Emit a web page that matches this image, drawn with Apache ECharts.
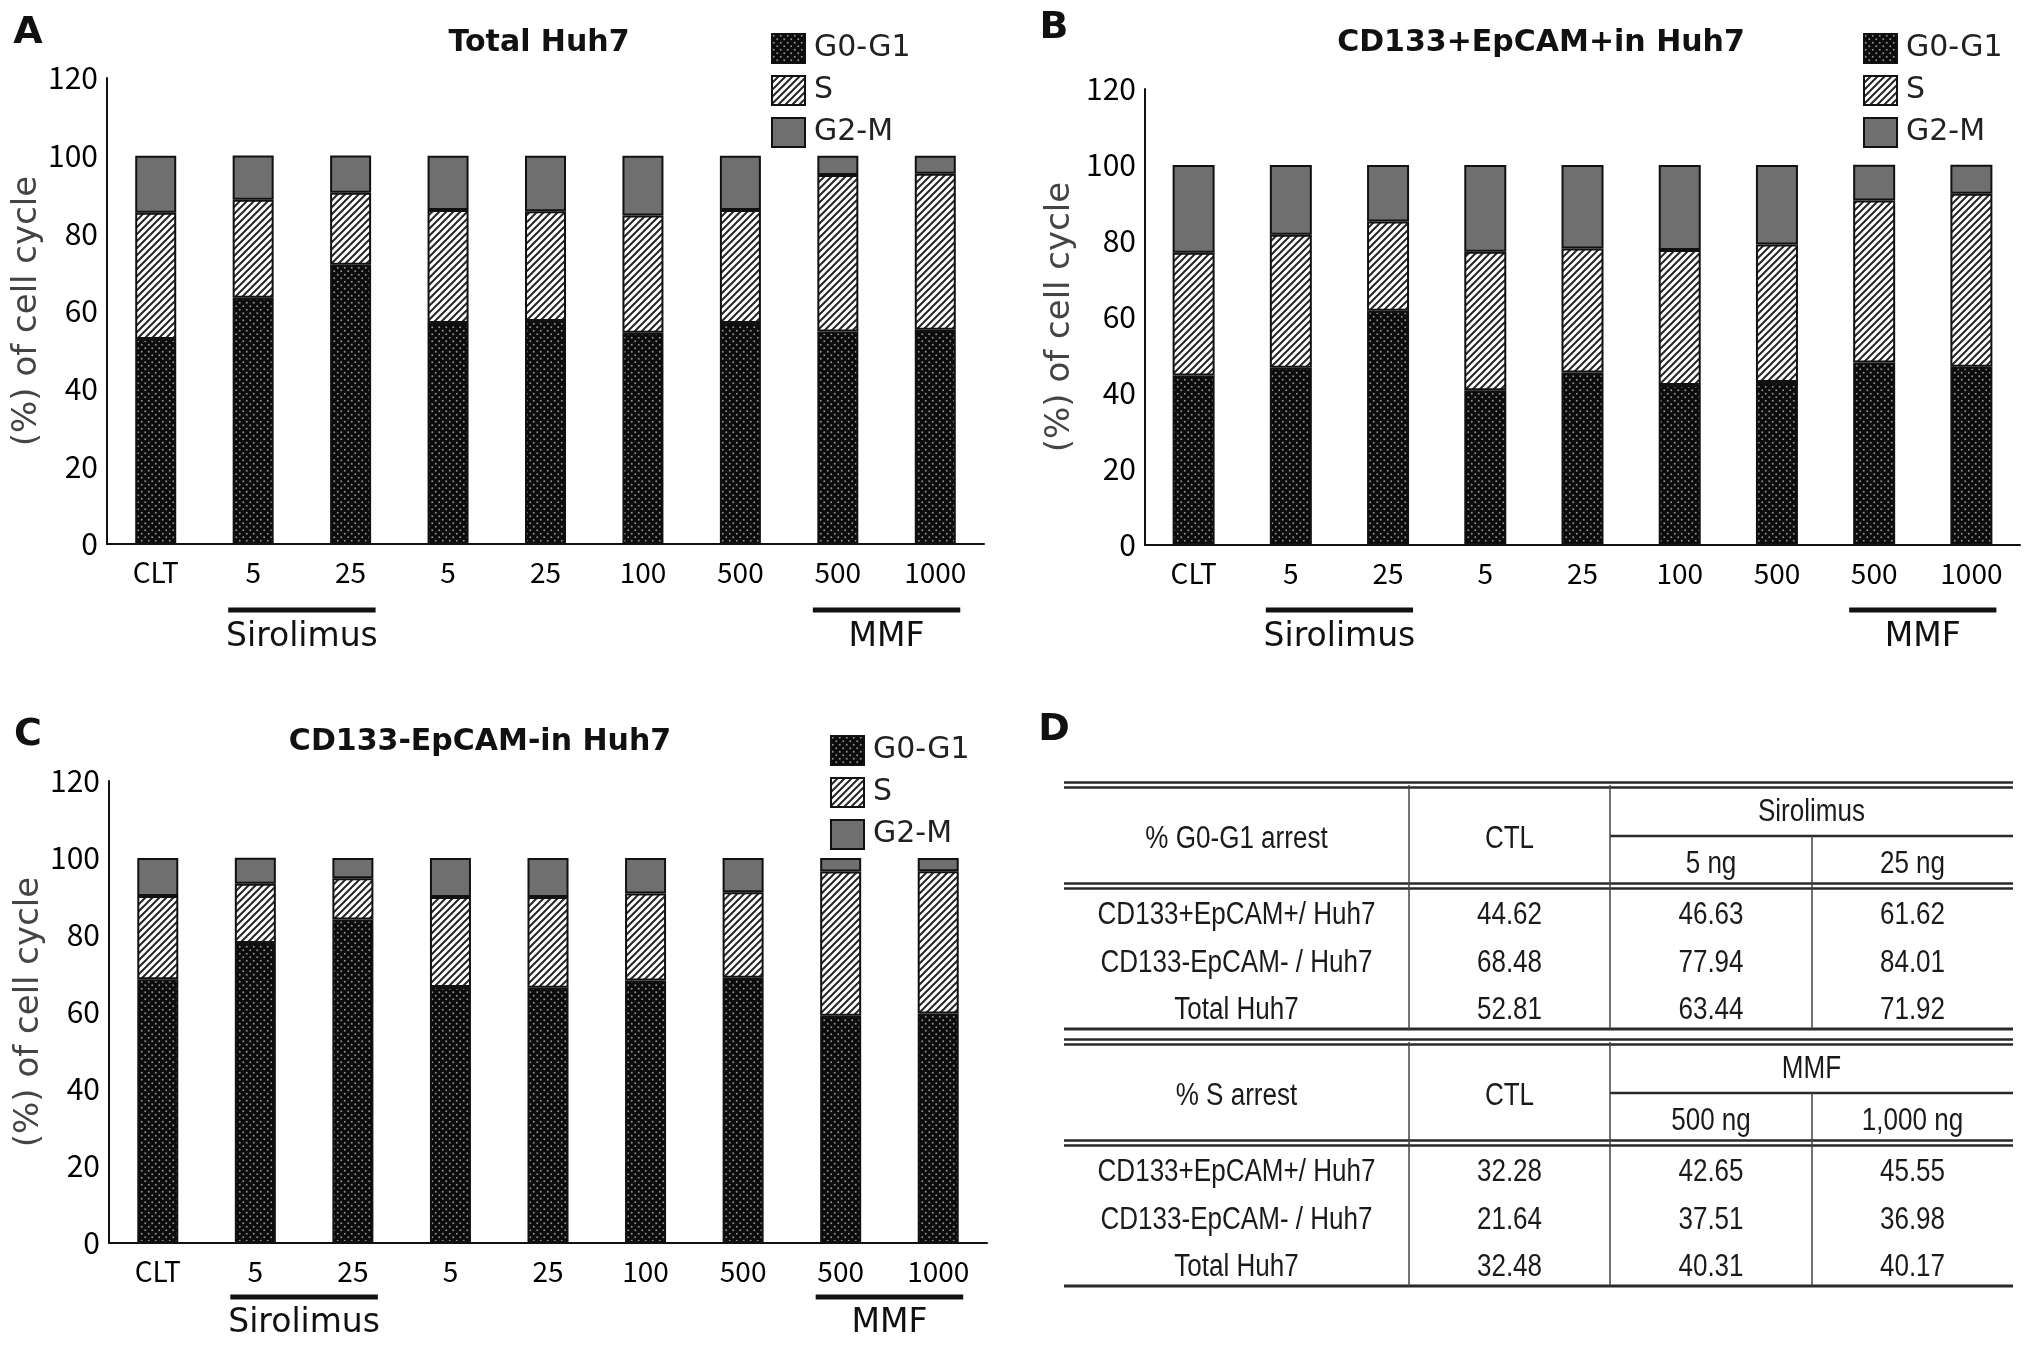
<!DOCTYPE html>
<html><head><meta charset="utf-8">
<script src="https://cdn.jsdelivr.net/npm/echarts@6/dist/echarts.min.js"></script>
<style>html,body{margin:0;padding:0;background:#fff;}#c{width:2031px;height:1348px;}</style>
</head><body><div id="c"></div>
<script>
// ---------- data ----------
const categories = ['CLT', '5', '25', '5', '25', '100', '500', '500', '1000'];
const phaseNames = ['G0-G1', 'S', 'G2-M'];
const panelTitles = ['Total Huh7', 'CD133+EpCAM+in Huh7', 'CD133-EpCAM-in Huh7'];
const panelLetters = ['A', 'B', 'C', 'D'];
const yTicks = [0, 20, 40, 60, 80, 100, 120];
const yAxisName = '(%) of cell cycle';
const groupLabels = ['Sirolimus', 'MMF'];
const groupFrom = [1, 7];
const groupTo = [2, 8];

// Panel A: Total Huh7
const totalG0 = [52.81, 63.44, 71.92, 56.9, 57.4, 54.4, 56.9, 54.7, 55.2];
const totalS = [32.48, 25.2, 18.5, 29.1, 28.3, 30.2, 29.1, 40.31, 40.17];
const totalG2M = [14.7, 11.4, 9.6, 14.0, 14.3, 15.4, 14.0, 5.0, 4.6];
// Panel B: CD133+EpCAM+
const posG0 = [44.62, 46.63, 61.62, 40.7, 45.4, 42.1, 42.9, 48.0, 46.9];
const posS = [32.28, 35.0, 23.5, 36.5, 32.6, 35.5, 36.2, 42.65, 45.55];
const posG2M = [23.1, 18.4, 14.9, 22.8, 22.0, 22.4, 20.9, 9.4, 7.6];
// Panel C: CD133-EpCAM-
const negG0 = [68.48, 77.94, 84.01, 66.5, 66.3, 68.2, 68.9, 59.0, 59.6];
const negS = [21.64, 15.4, 10.7, 23.4, 23.6, 22.6, 22.2, 37.51, 36.98];
const negG2M = [9.9, 6.7, 5.3, 10.1, 10.1, 9.2, 8.9, 3.5, 3.4];

// Panel D: table
const tableRowNames = ['CD133+EpCAM+/ Huh7', 'CD133-EpCAM- / Huh7', 'Total Huh7'];
const g0Header = '% G0-G1 arrest';
const sHeader = '% S arrest';
const ctlHeader = 'CTL';
const g0Group = 'Sirolimus';
const sGroup = 'MMF';
const g0SubCols = ['5 ng', '25 ng'];
const sSubCols = ['500 ng', '1,000 ng'];
const g0CTL = [44.62, 68.48, 52.81];
const g0Siro5 = [46.63, 77.94, 63.44];
const g0Siro25 = [61.62, 84.01, 71.92];
const sCTL = [32.28, 21.64, 32.48];
const sMMF500 = [42.65, 37.51, 40.31];
const sMMF1000 = [45.55, 36.98, 40.17];

// ---------- styles ----------
const fTick = "'Noto Sans CJK KR', 'Noto Sans', sans-serif";
const fDV = "'DejaVu Sans', sans-serif";
const fArial = "'Liberation Sans', Arial, sans-serif";

function dotPattern() {
  const c = document.createElement('canvas'); c.width = 7; c.height = 7;
  const x = c.getContext('2d');
  x.fillStyle = '#0b0b0b'; x.fillRect(0, 0, 7, 7);
  x.fillStyle = '#8f8f8f';
  [[1.75, 1.75], [5.25, 5.25]].forEach(p => { x.beginPath(); x.arc(p[0], p[1], 1.0, 0, Math.PI * 2); x.fill(); });
  return c;
}
function hatchPattern() {
  const c = document.createElement('canvas'); c.width = 7; c.height = 7;
  const x = c.getContext('2d');
  x.fillStyle = '#ffffff'; x.fillRect(0, 0, 7, 7);
  x.strokeStyle = '#262626'; x.lineWidth = 2;
  x.beginPath();
  x.moveTo(-1, 8); x.lineTo(8, -1);
  x.moveTo(-1, 1); x.lineTo(1, -1);
  x.moveTo(6, 8); x.lineTo(8, 6);
  x.stroke();
  return c;
}
const phaseColors = [
  { image: dotPattern(), repeat: 'repeat' },
  { image: hatchPattern(), repeat: 'repeat' },
  '#6f6f6f'
];

const grids = [
  { left: 107, top: 78, width: 877, height: 466 },
  { left: 1145, top: 89, width: 875, height: 456 },
  { left: 109, top: 781, width: 878, height: 462 }
];
const nameGaps = [58, 68, 60];
const legendPos = [{ left: 766, top: 28 }, { left: 1858, top: 28 }, { left: 825, top: 730 }];
const panelData = [
  [totalG0, totalS, totalG2M],
  [posG0, posS, posG2M],
  [negG0, negS, negG2M]
];

const xAxes = [], yAxes = [], series = [], legends = [];
grids.forEach((g, i) => {
  xAxes.push({
    type: 'category', gridIndex: i, data: categories,
    axisLine: { lineStyle: { color: '#111', width: 2 } },
    axisTick: { show: false },
    axisLabel: { fontSize: 28, color: '#000', fontFamily: fTick, margin: 14 }
  });
  yAxes.push({
    type: 'value', gridIndex: i, min: yTicks[0], max: yTicks[yTicks.length - 1], interval: yTicks[1] - yTicks[0],
    splitLine: { show: false },
    axisLine: { show: true, lineStyle: { color: '#111', width: 2 } },
    axisTick: { show: false },
    axisLabel: { fontSize: 30, color: '#000', fontFamily: fTick, margin: 9 },
    name: yAxisName, nameLocation: 'middle', nameRotate: 90, nameGap: nameGaps[i],
    nameTextStyle: { fontSize: 34, color: '#444', fontFamily: fDV }
  });
  phaseNames.forEach((n, k) => {
    series.push({
      name: n, type: 'bar', stack: 'p' + i, xAxisIndex: i, yAxisIndex: i,
      barWidth: i === 1 ? 42 : 41,
      data: panelData[i][k],
      itemStyle: { color: phaseColors[k], borderColor: '#111', borderWidth: 2 },
      emphasis: { disabled: true },
      animation: false
    });
  });
  legends.push({
    orient: 'vertical', left: legendPos[i].left, top: legendPos[i].top,
    data: phaseNames, icon: 'rect', itemWidth: 33, itemHeight: 29, itemGap: 11,
    itemStyle: { borderColor: '#111', borderWidth: 2 },
    textStyle: { fontSize: 30, color: '#222', fontFamily: fDV, padding: [0, 0, 0, 4] },
    selectedMode: false
  });
});

const chart = echarts.init(document.getElementById('c'), null, { renderer: 'canvas' });
chart.setOption({
  animation: false,
  backgroundColor: '#fff',
  grid: grids,
  xAxis: xAxes,
  yAxis: yAxes,
  legend: legends,
  series: series
});

// ---------- annotations ----------
const gfx = [];
const titlePos = [[539, 43], [1541, 43], [480, 742]];
panelTitles.forEach((t, i) => {
  gfx.push({ type: 'text', x: titlePos[i][0], y: titlePos[i][1],
    style: { text: t, fontSize: i === 0 ? 30 : 30, fontWeight: 'bold', fontFamily: fDV, fill: '#111', align: 'center', verticalAlign: 'middle' } });
});
const letterPos = [[28, 33], [1054, 28], [28, 735], [1054, 730]];
panelLetters.forEach((t, i) => {
  gfx.push({ type: 'text', x: letterPos[i][0], y: letterPos[i][1],
    style: { text: t, fontSize: 38, fontWeight: 'bold', fontFamily: fDV, fill: '#111', align: 'center', verticalAlign: 'middle' } });
});

// group brackets under the category axis
const lineOffset = [66, 65, 54];
const textOffset = [93, 92, 80];
grids.forEach((g, i) => {
  groupLabels.forEach((lab, j) => {
    const p1 = chart.convertToPixel({ gridIndex: i }, [groupFrom[j], 0]);
    const p2 = chart.convertToPixel({ gridIndex: i }, [groupTo[j], 0]);
    const y0 = p1[1];
    gfx.push({ type: 'line', shape: { x1: p1[0] - 25, y1: y0 + lineOffset[i], x2: p2[0] + 25, y2: y0 + lineOffset[i] },
      style: { stroke: '#111', lineWidth: 5 } });
    gfx.push({ type: 'text', x: (p1[0] + p2[0]) / 2, y: y0 + textOffset[i],
      style: { text: lab, fontSize: 33, fontFamily: fDV, fill: '#111', align: 'center', verticalAlign: 'middle' } });
  });
});

// ---------- table D ----------
const colX = [1064, 1409, 1610, 1812, 2013];
function hline(x1, x2, y, w) {
  gfx.push({ type: 'line', shape: { x1: x1, y1: y, x2: x2, y2: y }, style: { stroke: '#2a2a2a', lineWidth: w } });
}
function vline(x, y1, y2) {
  gfx.push({ type: 'line', shape: { x1: x, y1: y1, x2: x, y2: y2 }, style: { stroke: '#444', lineWidth: 1.5 } });
}
function cell(text, x, y) {
  gfx.push({ type: 'text', x: x, y: y, scaleX: 0.84,
    style: { text: text, fontSize: 31, fontFamily: fArial, fill: '#1a1a1a', align: 'center', verticalAlign: 'middle' } });
}
function drawBlock(oy, header, group, subCols, c0, c1, c2) {
  const top = 785 + oy, bottom = 1029 + oy, sub = 836 + oy, thick = 886 + oy;
  hline(colX[0], colX[4], top - 2.5, 2.5);
  hline(colX[0], colX[4], top + 2.5, 2.5);
  hline(colX[0], colX[4], thick - 2.5, 2.5);
  hline(colX[0], colX[4], thick + 2.5, 2.5);
  hline(colX[0], colX[4], bottom, 3);
  hline(colX[2], colX[4], sub, 2.5);
  vline(colX[1], top, bottom);
  vline(colX[2], top, bottom);
  vline(colX[3], sub, bottom);
  const mid = (a, b) => (colX[a] + colX[b]) / 2;
  cell(header, mid(0, 1), 839 + oy);
  cell(ctlHeader, mid(1, 2), 839 + oy);
  cell(group, mid(2, 4), 812 + oy);
  cell(subCols[0], mid(2, 3), 864 + oy);
  cell(subCols[1], mid(3, 4), 864 + oy);
  const rowY = [915, 963, 1010];
  tableRowNames.forEach((r, k) => {
    const y = rowY[k] + oy;
    cell(r, mid(0, 1), y);
    cell(c0[k].toFixed(2), mid(1, 2), y);
    cell(c1[k].toFixed(2), mid(2, 3), y);
    cell(c2[k].toFixed(2), mid(3, 4), y);
  });
}
drawBlock(0, g0Header, g0Group, g0SubCols, g0CTL, g0Siro5, g0Siro25);
drawBlock(257, sHeader, sGroup, sSubCols, sCTL, sMMF500, sMMF1000);

chart.setOption({ graphic: { elements: gfx } });
</script></body></html>
